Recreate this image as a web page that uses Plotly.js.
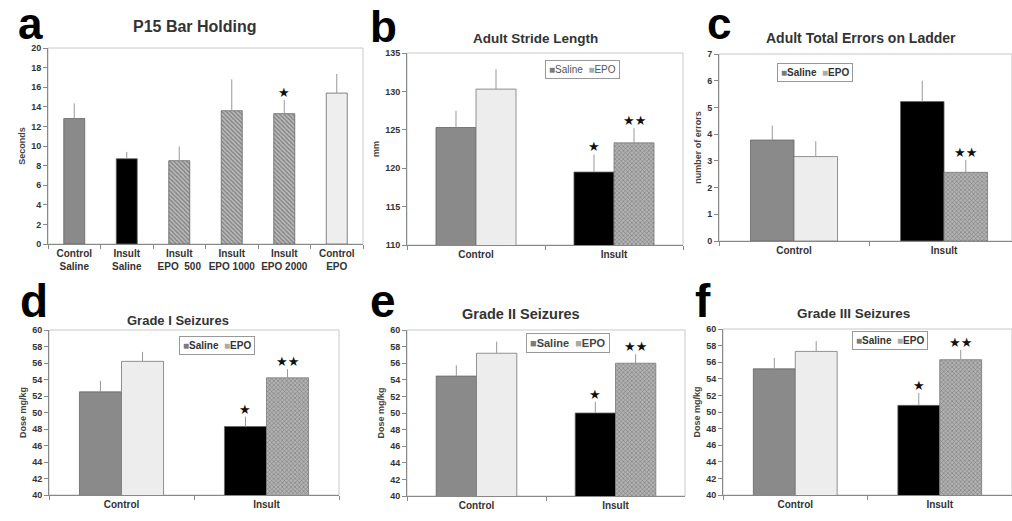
<!DOCTYPE html>
<html><head><meta charset="utf-8">
<script src="https://cdn.plot.ly/plotly-3.0.1.min.js"></script>
<style>html,body{margin:0;padding:0;background:#fff}#chart{width:1012px;height:521px}</style>
</head><body><div id="chart"></div>
<script>
// ---------- data ----------
const barHoldingLabels = ['Control<br>Saline','Insult<br>Saline','Insult<br>EPO  500','Insult<br>EPO 1000','Insult<br>EPO 2000','Control<br>EPO'];
const barHolding    = [12.8, 8.7, 8.5, 13.6, 13.3, 15.4];
const barHoldingErr = [1.55, 0.7, 1.45, 3.2, 1.4, 1.95];
const barHoldingSig = ['', '', '', '', '★', ''];

const groups = ['Control', 'Insult'];

const strideSaline    = [125.3, 119.5];
const strideSalineErr = [2.2, 2.3];
const strideEPO       = [130.3, 123.3];
const strideEPOErr    = [2.6, 1.9];
const strideSigSaline = ['', '★'];
const strideSigEPO    = ['', '★★'];

const ladderSaline    = [3.78, 5.22];
const ladderSalineErr = [0.54, 0.78];
const ladderEPO       = [3.16, 2.57];
const ladderEPOErr    = [0.58, 0.46];
const ladderSigSaline = ['', ''];
const ladderSigEPO    = ['', '★★'];

const grade1Saline    = [52.5, 48.3];
const grade1SalineErr = [1.35, 1.2];
const grade1EPO       = [56.2, 54.2];
const grade1EPOErr    = [1.15, 1.05];

const grade2Saline    = [54.45, 50.0];
const grade2SalineErr = [1.3, 1.35];
const grade2EPO       = [57.2, 56.0];
const grade2EPOErr    = [1.4, 1.1];

const grade3Saline    = [55.2, 50.8];
const grade3SalineErr = [1.3, 1.5];
const grade3EPO       = [57.3, 56.3];
const grade3EPOErr    = [1.25, 1.2];

const seizureSigSaline = ['', '★'];
const seizureSigEPO    = ['', '★★'];

const legendNames = ['Saline', 'EPO'];

// ---------- helpers ----------
const W = 1012, H = 521;
const PX = p => p / W, PY = p => 1 - p / H;
const FONT = 'Liberation Sans, Arial, sans-serif';
const BW = 0.29;

const data = [];
const annotations = [];
const shapes = [];
const layout = {
  width: W, height: H,
  margin: {l: 0, r: 0, t: 0, b: 0},
  paper_bgcolor: '#fff', plot_bgcolor: '#fff',
  showlegend: false,
  font: {family: FONT, color: '#333'},
  annotations, shapes
};

function axes(n, dom, yRange, dtick, yTitle, xRange, tickSize) {
  const xs = n === 1 ? '' : n;
  layout['xaxis' + xs] = {
    domain: [PX(dom[0]), PX(dom[1])], anchor: 'y' + xs, type: 'category',
    range: xRange, showline: true, linecolor: '#888', linewidth: 1,
    ticks: 'outside', tickson: 'boundaries', ticklen: 4, tickcolor: '#888',
    tickangle: 0,
    tickfont: {family: FONT, size: tickSize, weight: 'bold', color: '#333'},
    showgrid: false, zeroline: false, fixedrange: true
  };
  layout['yaxis' + xs] = {
    domain: [PY(dom[3]), PY(dom[2])], anchor: 'x' + xs,
    range: yRange, dtick: dtick, showline: true, linecolor: '#888', linewidth: 1,
    ticks: 'outside', ticklen: 4, tickcolor: '#888',
    tickfont: {family: FONT, size: 9, weight: 'bold', color: '#333'},
    showgrid: false, zeroline: false, fixedrange: true,
    title: {text: yTitle, font: {family: FONT, size: 9, weight: 'bold', color: '#444'}, standoff: 4}
  };
  shapes.push({type: 'rect', xref: 'x' + xs + ' domain', yref: 'y' + xs + ' domain',
    x0: 0, x1: 1, y0: 0, y1: 1, line: {color: '#c8c8c8', width: 1}, layer: 'below'});
}

function errBar(arr) {
  return {type: 'data', symmetric: false, array: arr, arrayminus: arr.map(() => 0),
    color: '#999', thickness: 1, width: 0};
}

function stars(n, xs, tops, sig) {
  const s = n === 1 ? '' : n;
  sig.forEach((t, i) => {
    if (!t) return;
    annotations.push({xref: 'x' + s, yref: 'y' + s, x: xs[i], y: tops[i], text: t,
      showarrow: false, yanchor: 'bottom', yshift: -2,
      font: {family: 'DejaVu Sans', size: 13, color: '#111'}});
  });
}

function title(text, cx, cy, size) {
  annotations.push({xref: 'paper', yref: 'paper', x: PX(cx), y: PY(cy), text: text,
    showarrow: false, xanchor: 'center', yanchor: 'middle',
    font: {family: FONT, size: size, weight: 'bold', color: '#333'}});
}

function letter(t, x, y, size) {
  annotations.push({xref: 'paper', yref: 'paper', x: PX(x), y: PY(y), text: t,
    showarrow: false, xanchor: 'left', yanchor: 'middle',
    font: {family: FONT, size: size, weight: 'bold', color: '#000'}});
}

function legendBox(cx, cy, size, weight, color) {
  annotations.push({xref: 'paper', yref: 'paper', x: PX(cx), y: PY(cy),
    text: '<span style="color:#7a7a7a">■</span>' + legendNames[0] +
          '  <span style="color:#aaaaaa">■</span>' + legendNames[1],
    showarrow: false, xanchor: 'center', yanchor: 'middle',
    bordercolor: '#999', borderwidth: 1, borderpad: 3, bgcolor: '#fff',
    font: {family: FONT, size: size, weight: weight, color: color}});
}

const epoMarker = {
  color: ['#ededed', '#b2b2b2'], line: {color: '#777', width: 0.8},
  pattern: {shape: ['', 'x'], fgcolor: '#505050', size: 3, solidity: 0.35, fillmode: 'overlay'}
};

function groupPanel(n, dom, yRange, dtick, yTitle, xRange, sal, salErr, epo, epoErr, sigS, sigE) {
  const s = n === 1 ? '' : n;
  axes(n, dom, yRange, dtick, yTitle, xRange, 10);
  data.push({type: 'bar', x: groups, y: sal, xaxis: 'x' + s, yaxis: 'y' + s, name: legendNames[0],
    width: BW, offset: -BW,
    marker: {color: ['#8a8a8a', '#000000'], line: {color: '#666', width: 0.8}},
    error_y: errBar(salErr), hoverinfo: 'skip'});
  data.push({type: 'bar', x: groups, y: epo, xaxis: 'x' + s, yaxis: 'y' + s, name: legendNames[1],
    width: BW, offset: 0, marker: epoMarker,
    error_y: errBar(epoErr), hoverinfo: 'skip'});
  const xS = groups.map((g, i) => i - BW / 2), xE = groups.map((g, i) => i + BW / 2);
  stars(n, xS, sal.map((v, i) => v + salErr[i]), sigS);
  stars(n, xE, epo.map((v, i) => v + epoErr[i]), sigE);
}

// ---------- panel a ----------
axes(1, [48, 363, 48, 244], [0, 20], 2, 'Seconds', [-0.5, 5.5], 10);
data.push({type: 'bar', x: barHoldingLabels, y: barHolding, xaxis: 'x', yaxis: 'y',
  width: 0.4,
  marker: {color: ['#8a8a8a', '#000000', '#bcbcbc', '#bcbcbc', '#bcbcbc', '#eeeeee'],
    line: {color: '#666', width: 0.8},
    pattern: {shape: ['', '', '\\', '\\', '\\', ''],
      fgcolor: '#333333', size: 3, solidity: 0.45, fillmode: 'overlay'}},
  error_y: errBar(barHoldingErr), hoverinfo: 'skip'});
stars(1, barHoldingLabels.map((l, i) => i), barHolding.map((v, i) => v + barHoldingErr[i]), barHoldingSig);
title('P15 Bar Holding', 195, 27, 16);
letter('a', 16, 23, 44);

// ---------- panel b ----------
groupPanel(2, [407, 683, 53, 245], [110, 135], 5, 'mm', [-0.5, 1.5],
  strideSaline, strideSalineErr, strideEPO, strideEPOErr, strideSigSaline, strideSigEPO);
title('Adult Stride Length', 535, 38, 13.5);
letter('b', 368, 27, 44);
legendBox(582, 70, 10, 'normal', '#555');

// ---------- panel c ----------
groupPanel(3, [719, 1012, 54, 241], [0, 7], 1, 'number of errors', [-0.5, 1.453],
  ladderSaline, ladderSalineErr, ladderEPO, ladderEPOErr, ladderSigSaline, ladderSigEPO);
title('Adult Total Errors on Ladder', 861, 38, 14);
letter('c', 705, 24, 44);
legendBox(815, 72, 10, 'bold', '#333');

// ---------- panel d ----------
groupPanel(4, [49, 339, 330, 495], [40, 60], 2, 'Dose mg/kg', [-0.5, 1.5],
  grade1Saline, grade1SalineErr, grade1EPO, grade1EPOErr, seizureSigSaline, seizureSigEPO);
title('Grade I Seizures', 178, 320, 13);
letter('d', 18, 301, 46);
legendBox(217, 345, 10, 'bold', '#333');

// ---------- panel e ----------
groupPanel(5, [407, 685, 330, 496], [40, 60], 2, 'Dose mg/kg', [-0.5, 1.5],
  grade2Saline, grade2SalineErr, grade2EPO, grade2EPOErr, seizureSigSaline, seizureSigEPO);
title('Grade II Seizures', 521, 314, 14.5);
letter('e', 368, 301, 46);
legendBox(568, 343, 11, 'bold', '#444');

// ---------- panel f ----------
groupPanel(6, [723, 1012, 329, 495], [40, 60], 2, 'Dose mg/kg', [-0.5, 1.5],
  grade3Saline, grade3SalineErr, grade3EPO, grade3EPOErr, seizureSigSaline, seizureSigEPO);
title('Grade III Seizures', 853, 313, 13.5);
letter('f', 693, 301, 46);
legendBox(890, 340, 10, 'bold', '#333');

Plotly.newPlot('chart', data, layout, {staticPlot: true, displayModeBar: false});
</script>
</body></html>
